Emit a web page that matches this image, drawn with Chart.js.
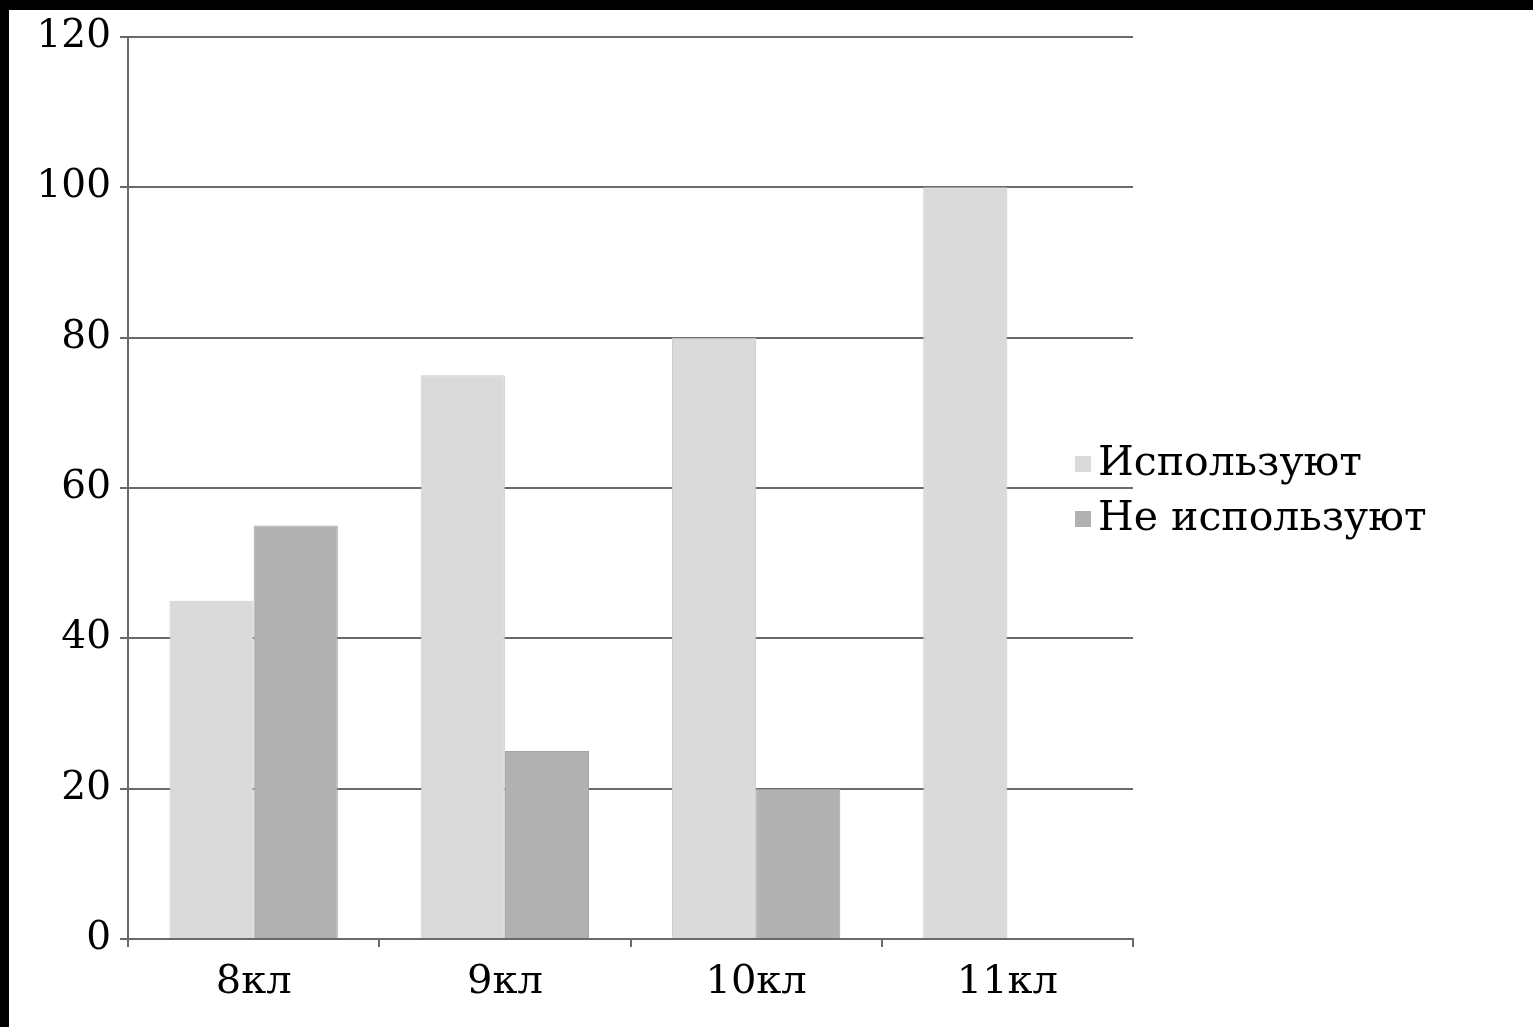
<!DOCTYPE html>
<html>
<head>
<meta charset="utf-8">
<script src="https://cdn.jsdelivr.net/npm/chart.js@4/dist/chart.umd.min.js"></script>
<style>
html,body{margin:0;padding:0;background:#000;width:1533px;height:1027px;overflow:hidden;}
#wrap{position:absolute;left:9px;top:10px;width:1524px;height:1017px;background:#fff;}
</style>
</head>
<body>
<div id="wrap"><canvas id="c"></canvas></div>
<script>
const categories = ['8кл', '9кл', '10кл', '11кл'];
const seriesNames = ['Используют', 'Не используют'];
const usesValues = [45, 75, 80, 100];
const notUsesValues = [55, 25, 20, 0];
const yTicks = [0, 20, 40, 60, 80, 100, 120];
const seriesColors = ['#dadada', '#b1b1b1'];
const seriesBorders = ['#cbcbcb', '#a3a3a3'];

const FONT = '"DejaVu Serif", "Liberation Serif", serif';

const legendPlugin = {
  id: 'customLegend',
  afterDraw(chart) {
    const ctx = chart.ctx;
    ctx.save();
    ctx.font = '41px ' + FONT;
    ctx.textBaseline = 'middle';
    chart.data.datasets.forEach((ds, i) => {
      const y = 454 + i * 55;
      ctx.fillStyle = ds.backgroundColor;
      ctx.fillRect(1066, y - 8, 16, 16);
      ctx.fillStyle = '#000';
      ctx.fillText(ds.label, 1089, y);
    });
    ctx.restore();
  }
};

new Chart(document.getElementById('c'), {
  type: 'bar',
  data: {
    labels: categories,
    datasets: [
      { label: seriesNames[0], data: usesValues, backgroundColor: seriesColors[0], borderColor: seriesBorders[0], borderWidth: 1 },
      { label: seriesNames[1], data: notUsesValues, backgroundColor: seriesColors[1], borderColor: seriesBorders[1], borderWidth: 1 }
    ]
  },
  options: {
    responsive: true,
    maintainAspectRatio: false,
    animation: false,
    layout: { padding: { top: 27, right: 400, left: 0, bottom: 0 } },
    datasets: { bar: { categoryPercentage: 0.67, barPercentage: 1.0 } },
    plugins: { legend: { display: false }, tooltip: { enabled: false } },
    scales: {
      x: {
        grid: { drawOnChartArea: false, drawTicks: true, tickLength: 8, color: '#6a6a6a', lineWidth: 2, offset: true },
        border: { color: '#6a6a6a', width: 2 },
        ticks: { color: '#000', font: { family: FONT, size: 40 }, padding: 12, maxRotation: 0 },
        afterFit(scale) { scale.height = 88; scale.paddingLeft = 0; scale.paddingRight = 0; }
      },
      y: {
        min: 0, max: 120,
        afterBuildTicks(scale) { scale.ticks = yTicks.map(v => ({ value: v })); },
        grid: { drawTicks: true, tickLength: 8, color: '#6a6a6a', lineWidth: 2 },
        border: { color: '#6a6a6a', width: 2 },
        ticks: { color: '#000', font: { family: FONT, size: 39 }, padding: 9 },
        afterFit(scale) { scale.width = 119; scale.paddingTop = 0; scale.paddingBottom = 0; }
      }
    }
  },
  plugins: [legendPlugin]
});
</script>
</body>
</html>
